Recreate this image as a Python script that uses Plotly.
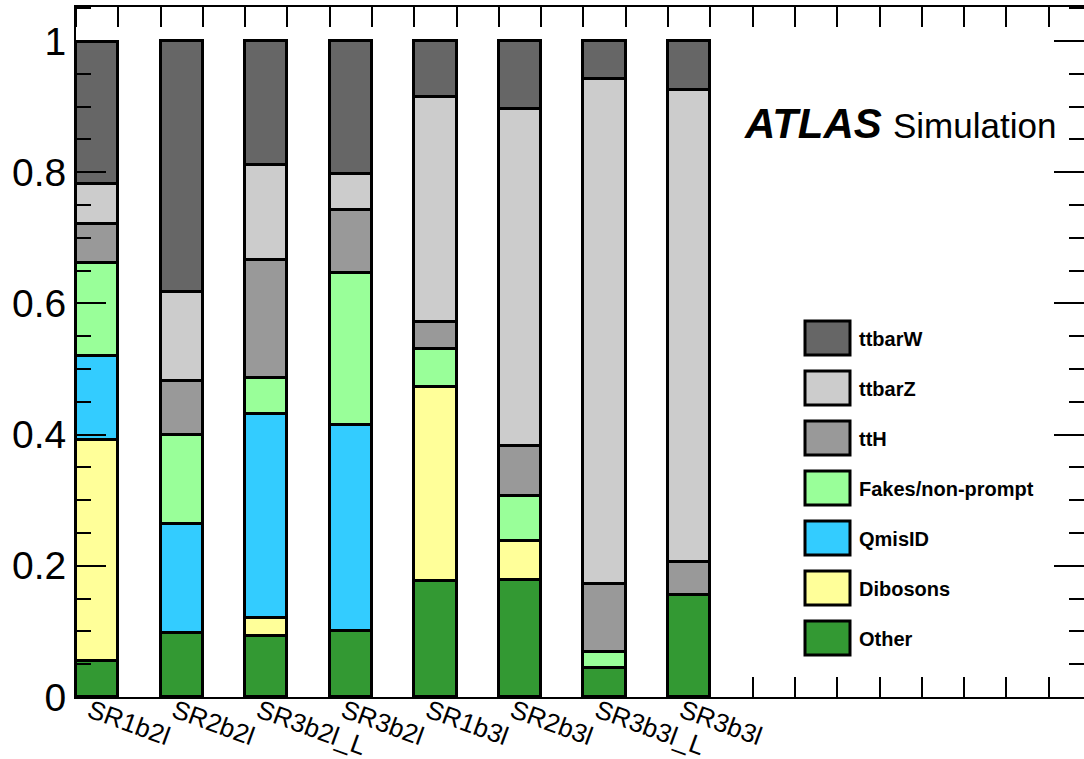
import plotly.graph_objects as go

# Signal-region composition (fraction of each background per region)
categories = ["SR1b2l", "SR2b2l", "SR3b2l_L", "SR3b2l", "SR1b3l", "SR2b3l", "SR3b3l_L", "SR3b3l"]
other    = [0.055, 0.098, 0.093, 0.100, 0.177, 0.178, 0.044, 0.155]
dibosons = [0.337, 0.000, 0.027, 0.000, 0.296, 0.060, 0.000, 0.000]
qmisid   = [0.128, 0.165, 0.311, 0.315, 0.000, 0.000, 0.000, 0.000]
fakes    = [0.142, 0.137, 0.055, 0.231, 0.057, 0.068, 0.025, 0.000]
tth      = [0.059, 0.082, 0.180, 0.096, 0.041, 0.076, 0.104, 0.051]
ttbarz   = [0.061, 0.135, 0.145, 0.056, 0.344, 0.515, 0.769, 0.720]
ttbarw   = [0.217, 0.383, 0.189, 0.202, 0.085, 0.103, 0.058, 0.074]

# stacked bottom -> top
series = [
    ("Other", other, "#339933"),
    ("Dibosons", dibosons, "#ffff99"),
    ("QmisID", qmisid, "#33ccff"),
    ("Fakes/non-prompt", fakes, "#99ff99"),
    ("ttH", tth, "#999999"),
    ("ttbarZ", ttbarz, "#cccccc"),
    ("ttbarW", ttbarw, "#666666"),
]

W, H = 1084, 759
ML, MT, MB, MR = 76, 7, 62, 0
PW, PH = W - ML - MR, H - MT - MB
BIN_PX = 42.29
XMAX = PW / BIN_PX
YMAX = 1.0518

FONT = "Liberation Sans, Arial, Helvetica, sans-serif"

# each region occupies every other bin
xpos = [2 * i + 0.5 for i in range(len(categories))]

fig = go.Figure()
for name, vals, color in series:
    fig.add_trace(go.Bar(
        x=xpos, y=vals, name=name, width=1.0,
        marker=dict(color=color, line=dict(color="black", width=3)),
        showlegend=False,
    ))


def px_x(p):
    return (p - ML) / PW


def px_y(p):
    return (MT + PH - p) / PH


shapes = []
annotations = []

# legend drawn as boxes with labels, top -> bottom
for k, (name, _, color) in enumerate(reversed(series)):
    top = 320 + 50 * k
    shapes.append(dict(
        type="rect", xref="paper", yref="paper",
        x0=px_x(805), x1=px_x(850), y0=px_y(top + 35), y1=px_y(top + 1),
        fillcolor=color, line=dict(color="black", width=3), layer="above",
    ))
    annotations.append(dict(
        xref="paper", yref="paper", x=px_x(857), y=px_y(top + 19),
        xanchor="left", yanchor="middle", showarrow=False,
        text="<b>%s</b>" % name, font=dict(family=FONT, size=20, color="black"),
    ))

annotations.append(dict(
    xref="paper", yref="paper", x=px_x(742), y=px_y(123),
    xanchor="left", yanchor="middle", showarrow=False,
    text="<b><i>ATLAS</i></b>", font=dict(family=FONT, size=42, color="black"),
))
annotations.append(dict(
    xref="paper", yref="paper", x=px_x(891), y=px_y(125),
    xanchor="left", yanchor="middle", showarrow=False,
    text="Simulation", font=dict(family=FONT, size=35, color="black"),
))

fig.update_layout(
    width=W, height=H,
    margin=dict(l=ML, r=MR, t=MT, b=MB, pad=0, autoexpand=False),
    paper_bgcolor="white", plot_bgcolor="white",
    barmode="stack", bargap=0,
    shapes=shapes, annotations=annotations,
    font=dict(family=FONT, color="black"),
    xaxis=dict(
        range=[0, XMAX], showgrid=False, zeroline=False, automargin=False,
        showline=True, linecolor="black", linewidth=2, mirror="ticks",
        tickmode="array", tickvals=xpos, ticktext=categories,
        ticks="", tickangle=20, tickfont=dict(family=FONT, size=26, color="black"),
        ticklabelstandoff=-13, ticklabelshift=-7,
        minor=dict(ticks="inside", tick0=0, dtick=1, ticklen=20, tickwidth=2, tickcolor="black"),
    ),
    yaxis=dict(
        range=[0, YMAX], showgrid=False, zeroline=False, automargin=False,
        showline=True, linecolor="black", linewidth=2, mirror="ticks",
        tickmode="linear", tick0=0, dtick=0.2,
        ticks="inside", ticklen=30, tickwidth=2, tickcolor="black",
        tickfont=dict(family=FONT, size=39, color="black"),
        minor=dict(ticks="inside", tick0=0, dtick=0.05, ticklen=15, tickwidth=2, tickcolor="black"),
    ),
)

fig.write_html("out.html")
